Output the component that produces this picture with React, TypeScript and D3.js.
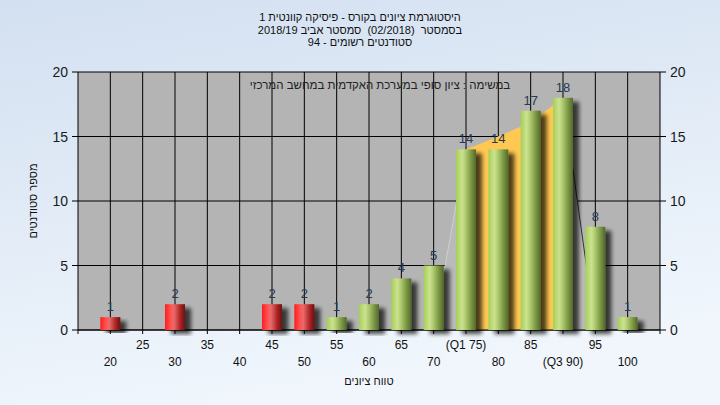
import React from "react";
import * as d3 from "d3";

const categories = [20, 25, 30, 35, 40, 45, 50, 55, 60, 65, 70, 75, 80, 85, 90, 95, 100];
const counts = [1, 0, 2, 0, 0, 2, 2, 1, 2, 4, 5, 14, 14, 17, 18, 8, 1];
const tickLabels = ["20", "25", "30", "35", "40", "45", "50", "55", "60", "65", "70", "(Q1 75)", "80", "85", "(Q3 90)", "95", "100"];
const yTicks = [0, 5, 10, 15, 20];
const q1 = 75;
const q3 = 90;
const passScore = 55;
// distribution outline (behind bars): score, value
const areaScores = [70, 75, 80, 85, 90, 95];
const areaValues = [0, 14, 15, 16.1, 18, 0];

const titleLines = [
  "היסטוגרמת ציונים בקורס - פיסיקה קוונטית 1",
  "בסמסטר  (02/2018)  סמסטר אביב 2018/19",
  "סטודנטים רשומים - 94",
];
const noteText = "במשימה : ציון סופי במערכת האקדמית במחשב המרכזי";
const xTitle = "טווח ציונים";
const yTitle = "מספר סטודנטים";

const W = 720, H = 405;
const L = 78, R = 660, T = 72, B = 330;
const FONT = "'Liberation Sans', Arial, sans-serif";

export default function App() {
  const x = d3.scaleLinear().domain([15, 105]).range([L, R]);
  const y = d3.scaleLinear().domain([0, 20]).range([B, T]);
  const barW = 20;

  const areaPts: [number, number][] = areaScores.map((s, i) => [x(s), y(areaValues[i])]);
  const areaPath = d3.line()(areaPts) + "Z";
  const orangePts: [number, number][] = [];
  areaScores.forEach((s, i) => {
    if (s >= q1 && s <= q3) orangePts.push([x(s), y(areaValues[i])]);
  });
  const orangePath =
    d3.line()([[x(q1), y(0)], ...orangePts, [x(q3), y(0)]]) + "Z";

  return (
    <svg width={W} height={H} style={{ position: "absolute", left: 0, top: 0 }} fontFamily={FONT}>
      <defs>
        <linearGradient id="bg" x1="0" y1="0" x2="0.3" y2="1">
          <stop offset="0" stopColor="#d3e0f1" />
          <stop offset="1" stopColor="#f0f6fc" />
        </linearGradient>
        <linearGradient id="red" x1="0" y1="0" x2="1" y2="0">
          <stop offset="0" stopColor="#ff1c1c" />
          <stop offset="0.3" stopColor="#ff5656" />
          <stop offset="0.45" stopColor="#e86a6a" />
          <stop offset="0.75" stopColor="#b02626" />
          <stop offset="1" stopColor="#6a1010" />
        </linearGradient>
        <linearGradient id="green" x1="0" y1="0" x2="1" y2="0">
          <stop offset="0" stopColor="#a6cf55" />
          <stop offset="0.3" stopColor="#cbe290" />
          <stop offset="0.45" stopColor="#b4cf74" />
          <stop offset="0.75" stopColor="#7c9844" />
          <stop offset="1" stopColor="#52682a" />
        </linearGradient>
        <filter id="sh" x="-50%" y="-20%" width="200%" height="140%">
          <feGaussianBlur in="SourceAlpha" stdDeviation="2.2" />
          <feOffset dx="6" dy="4" result="o" />
          <feComponentTransfer>
            <feFuncA type="linear" slope="0.7" />
          </feComponentTransfer>
          <feMerge>
            <feMergeNode />
            <feMergeNode in="SourceGraphic" />
          </feMerge>
        </filter>
      </defs>
      <rect x={0} y={0} width={W} height={H} fill="url(#bg)" />

      {/* titles */}
      {titleLines.map((t, i) => (
        <text key={i} x={360} y={21 + i * 12.5} textAnchor="middle" fontSize={11} fill="#111"
          direction="rtl" style={{ whiteSpace: "pre" }}>
          {t}
        </text>
      ))}

      {/* plot area */}
      <rect x={L} y={T} width={R - L} height={B - T} fill="#b4b4b4" />
      {/* grid */}
      {yTicks.map((v) => (
        <line key={"gy" + v} x1={L} x2={R} y1={y(v)} y2={y(v)} stroke="#000" strokeWidth={1} />
      ))}
      {categories.map((c) => (
        <line key={"gx" + c} x1={x(c)} x2={x(c)} y1={T} y2={B} stroke="#000" strokeWidth={1} />
      ))}

      {/* distribution area */}
      <path d={areaPath} fill="#bababa" stroke="none" />
      <line x1={areaPts[0][0]} y1={areaPts[0][1]} x2={areaPts[1][0]} y2={areaPts[1][1]} stroke="#cfcfcf" strokeWidth={1} />
      <line x1={areaPts[4][0]} y1={areaPts[4][1]} x2={areaPts[5][0]} y2={areaPts[5][1]} stroke="#333" strokeWidth={1} />
      <path d={orangePath} fill="#ffc852" />

      <text x={380} y={89} textAnchor="middle" fontSize={11.5} fill="#222" direction="rtl">
        {noteText}
      </text>

      {/* axes */}
      <line x1={L} x2={L} y1={T} y2={B + 4} stroke="#000" />
      <line x1={R} x2={R} y1={T} y2={B + 4} stroke="#000" />
      <line x1={L} x2={R} y1={B} y2={B} stroke="#000" />
      {yTicks.map((v) => (
        <g key={"yt" + v}>
          <line x1={L - 6} x2={L} y1={y(v)} y2={y(v)} stroke="#000" />
          <line x1={R} x2={R + 6} y1={y(v)} y2={y(v)} stroke="#000" />
          <text x={L - 10} y={y(v) + 5} textAnchor="end" fontSize={14} fill="#1a1a1a">{v}</text>
          <text x={R + 10} y={y(v) + 5} textAnchor="start" fontSize={14} fill="#1a1a1a">{v}</text>
        </g>
      ))}
      {categories.map((c, i) => (
        <g key={"xt" + c}>
          <line x1={x(c)} x2={x(c)} y1={B} y2={B + 4} stroke="#000" />
          <text x={x(c)} y={i % 2 === 0 ? 366 : 349} textAnchor="middle" fontSize={12} fill="#111">
            {tickLabels[i]}
          </text>
        </g>
      ))}

      {/* bars */}
      {categories.map((c, i) =>
        counts[i] > 0 ? (
          <g key={"b" + c}>
            <rect
              x={x(c) - barW / 2}
              y={y(counts[i])}
              width={barW}
              height={y(0) - y(counts[i])}
              fill={c < passScore ? "url(#red)" : "url(#green)"}
              filter="url(#sh)"
            />
            <text x={x(c)} y={y(counts[i]) - 6} textAnchor="middle" fontSize={13} fill="#243a58">
              {counts[i]}
            </text>
          </g>
        ) : null
      )}

      {/* axis titles */}
      <text x={(L + R) / 2} y={385} textAnchor="middle" fontSize={11} fill="#111" direction="rtl">
        {xTitle}
      </text>
      <text
        transform={`translate(37,${(T + B) / 2}) rotate(-90)`}
        textAnchor="middle"
        fontSize={11}
        fill="#111"
        direction="rtl"
      >
        {yTitle}
      </text>
    </svg>
  );
}
